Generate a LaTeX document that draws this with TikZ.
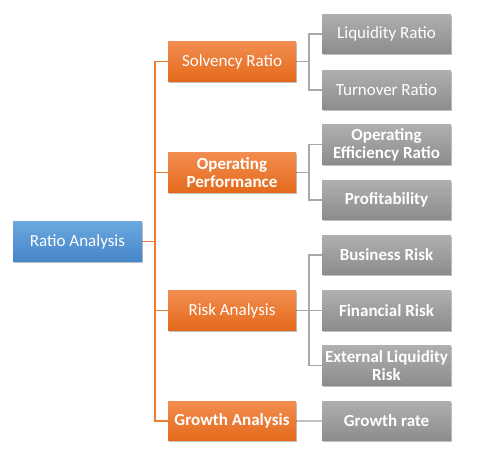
\documentclass[tikz,border=0pt]{standalone}
\usepackage{fontspec}
\setmainfont{Carlito}
\usetikzlibrary{shadows,backgrounds}
\definecolor{orT}{HTML}{F28D50}
\definecolor{orB}{HTML}{E46A1B}
\definecolor{blT}{HTML}{6BA8E0}
\definecolor{blB}{HTML}{4586C8}
\definecolor{grT}{HTML}{AFAFAF}
\definecolor{grB}{HTML}{8C8C8C}
\definecolor{orLine}{HTML}{ED7D31}
\definecolor{grLine}{HTML}{A8A8A8}
\begin{document}
\begin{tikzpicture}[x=1pt,y=-1pt,
  box/.style={minimum height=39.5pt, inner sep=0pt, align=center, text=white,
    font=\fontsize{17}{18}\selectfont,
    drop shadow={shadow xshift=1.2pt, shadow yshift=-1.6pt, opacity=0.35, fill=black!70}},
  bluebox/.style={box, minimum width=129pt, top color=blT, bottom color=blB},
  orbox/.style={box, minimum width=128pt, top color=orT, bottom color=orB},
  grbox/.style={box, minimum width=129pt, top color=grT, bottom color=grB},
  bf/.style={font=\fontsize{17}{18}\selectfont\bfseries},
  orline/.style={draw=orLine, line width=1.1pt},
  grline/.style={draw=grLine, line width=1.1pt}
]
\useasboundingbox (0,0) rectangle (485,459);

\node[bluebox] (ratio) at (77.5,241.5) {Ratio Analysis};

\node[orbox] (solv) at (232,61.5) {Solvency Ratio};
\node[orbox,bf] (opp) at (232,172.5) {Operating\\Performance};
\node[orbox] (risk) at (232,310.5) {Risk Analysis};
\node[orbox,bf] (grow) at (232,421) {Growth Analysis};

\node[grbox] (liq) at (386.5,34) {Liquidity Ratio};
\node[grbox] (turn) at (386.5,90) {Turnover Ratio};
\node[grbox,bf] (opeff) at (386.5,144.5) {Operating\\Efficiency Ratio};
\node[grbox,bf] (prof) at (386.5,200) {Profitability};
\node[grbox,bf] (bus) at (386.5,255) {Business Risk};
\node[grbox,bf] (fin) at (386.5,310.5) {Financial Risk};
\node[grbox,bf] (ext) at (386.5,365.5) {External Liquidity\\Risk};
\node[grbox,bf] (grate) at (386.5,421) {Growth rate};

\coordinate (ot) at (155,241.5);
\coordinate (g1) at (309,61.5);
\coordinate (g2) at (309,172.5);
\coordinate (g3) at (309,310.5);

\begin{scope}[on background layer]
\fill[white] (0,0) rectangle (485,459);
\draw[orline] (ratio.east) -- (ot);
\foreach \n in {solv,opp,risk,grow} \draw[orline] (\n.west) -| (ot);
\draw[grline] (solv.east) -- (g1);
\draw[grline] (liq.west) -| (g1);
\draw[grline] (turn.west) -| (g1);
\draw[grline] (opp.east) -- (g2);
\draw[grline] (opeff.west) -| (g2);
\draw[grline] (prof.west) -| (g2);
\draw[grline] (risk.east) -- (g3);
\draw[grline] (bus.west) -| (g3);
\draw[grline] (fin.west) -| (g3);
\draw[grline] (ext.west) -| (g3);
\draw[grline, draw=grLine!70] (grow.east) -- (grate.west);
\end{scope}
\end{tikzpicture}
\end{document}
